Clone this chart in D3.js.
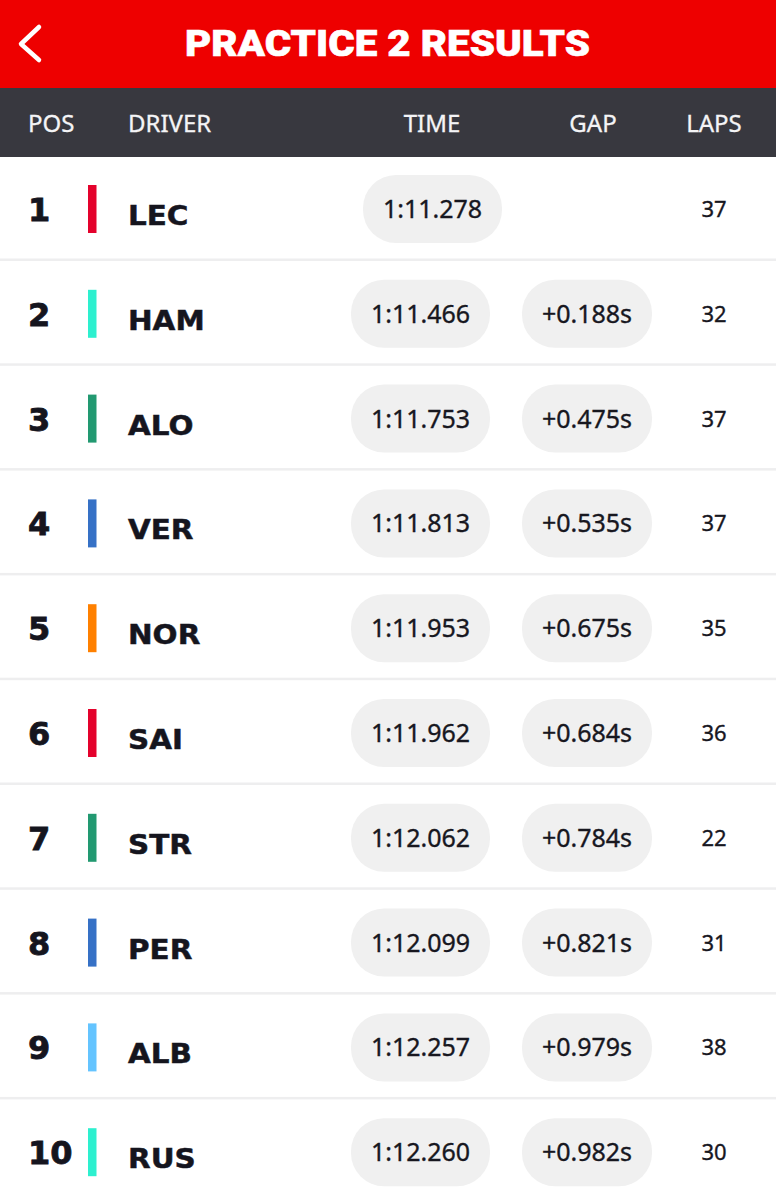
<!DOCTYPE html>
<html lang="en">
<head>
    <meta charset="UTF-8">
    <title>Practice 2 Results</title>
    <script src="https://d3js.org/d3.v7.min.js"></script>
    <style>
        html, body { margin: 0; padding: 0; background: #fff; }
        svg { display: block; }
        .cell { font-family: "Noto Sans", sans-serif; fill: #17171f; stroke: #17171f; stroke-width: 0.35; }
    </style>
</head>
<body>
    <div id="container"></div>
    <script>
        // data
        const positions = [1, 2, 3, 4, 5, 6, 7, 8, 9, 10];
        const drivers = ["LEC", "HAM", "ALO", "VER", "NOR", "SAI", "STR", "PER", "ALB", "RUS"];
        const teamColors = ["#e4022c", "#2df0cf", "#229971", "#3671c6", "#ff8000", "#e4022c", "#229971", "#3671c6", "#64c4ff", "#2df0cf"];
        const times = ["1:11.278", "1:11.466", "1:11.753", "1:11.813", "1:11.953", "1:11.962", "1:12.062", "1:12.099", "1:12.257", "1:12.260"];
        const gaps = ["", "+0.188s", "+0.475s", "+0.535s", "+0.675s", "+0.684s", "+0.784s", "+0.821s", "+0.979s", "+0.982s"];
        const laps = [37, 32, 37, 37, 35, 36, 22, 31, 38, 30];
        const columns = ["POS", "DRIVER", "TIME", "GAP", "LAPS"];

        const width = 776, height = 1200;
        const svg = d3.select("#container").append("svg")
            .attr("width", width).attr("height", height);

        // row centres
        const y = d3.scalePoint().domain(positions).range([209, 1152.2]);

        // top bars
        svg.append("rect").attr("width", width).attr("height", 88).attr("fill", "#ee0000");
        svg.append("rect").attr("y", 88).attr("width", width).attr("height", 69).attr("fill", "#38383f");

        svg.append("path")
            .attr("d", d3.line()([[39, 27], [21, 44], [39, 60]]))
            .attr("fill", "none").attr("stroke", "#fff").attr("stroke-width", 4.5).attr("stroke-linecap", "round").attr("stroke-linejoin", "round");

        svg.append("text").text("PRACTICE 2 RESULTS")
            .attr("x", 185).attr("y", 55.5)
            .attr("textLength", 405).attr("lengthAdjust", "spacingAndGlyphs")
            .attr("font-family", "Roboto, sans-serif").attr("font-weight", 900).attr("font-size", 36)
            .attr("fill", "#fff").attr("stroke", "#fff").attr("stroke-width", 0.6);

        // header labels
        const headerX = d3.scaleOrdinal().domain(columns).range([28, 128, 432, 593, 714]);
        svg.selectAll("text.head").data(columns).enter().append("text")
            .attr("class", "head")
            .text(d => d)
            .attr("x", d => headerX(d))
            .attr("y", 132)
            .attr("text-anchor", (d, i) => i < 2 ? "start" : "middle")
            .attr("font-family", "Noto Sans, sans-serif").attr("font-size", 24)
            .attr("fill", "#f4f4f6").attr("stroke", "#f4f4f6").attr("stroke-width", 0.3);

        // one group per row
        const rows = svg.selectAll("g.row").data(positions).enter().append("g")
            .attr("class", "row")
            .attr("transform", d => `translate(0,${y(d)})`);

        // separators
        rows.filter((d, i) => i < positions.length - 1).append("rect")
            .attr("y", 49.5).attr("width", width).attr("height", 2.5).attr("fill", "#eeeeef");

        rows.append("text").text(d => d)
            .attr("x", 28).attr("y", 12)
            .attr("font-family", "DejaVu Sans, sans-serif").attr("font-weight", 700).attr("font-size", 32)
            .attr("fill", "#15151e").attr("stroke", "#15151e").attr("stroke-width", 0.8);

        rows.append("rect")
            .attr("x", 88).attr("y", -24).attr("width", 8.5).attr("height", 48)
            .attr("fill", (d, i) => teamColors[i]);

        rows.append("text").text((d, i) => drivers[i])
            .attr("transform", "translate(128,16) scale(1.09,1)")
            .attr("font-family", "DejaVu Sans, sans-serif").attr("font-weight", 700).attr("font-size", 27)
            .attr("fill", "#15151e").attr("stroke", "#15151e").attr("stroke-width", 0.5);

        // time pills, the first row has no gap so its pill sits further right
        const timeX = i => gaps[i] === "" ? 432.5 : 420.5;
        rows.append("rect")
            .attr("x", (d, i) => timeX(i) - 69.5).attr("y", -34)
            .attr("width", 139).attr("height", 68).attr("rx", 33)
            .attr("fill", "#f0f0f0");
        rows.append("text").attr("class", "cell")
            .text((d, i) => times[i])
            .attr("x", (d, i) => timeX(i)).attr("y", 9)
            .attr("text-anchor", "middle").attr("font-size", 25);

        // gap pills
        const gapRows = rows.filter((d, i) => gaps[i] !== "");
        gapRows.append("rect")
            .attr("x", 522).attr("y", -34)
            .attr("width", 130).attr("height", 68).attr("rx", 33)
            .attr("fill", "#f0f0f0");
        gapRows.append("text").attr("class", "cell")
            .text(d => gaps[d - 1])
            .attr("x", 587).attr("y", 9)
            .attr("text-anchor", "middle").attr("font-size", 25);

        rows.append("text").attr("class", "cell")
            .text((d, i) => laps[i])
            .attr("x", 714).attr("y", 8)
            .attr("text-anchor", "middle").attr("font-size", 22);
    </script>
</body>
</html>
